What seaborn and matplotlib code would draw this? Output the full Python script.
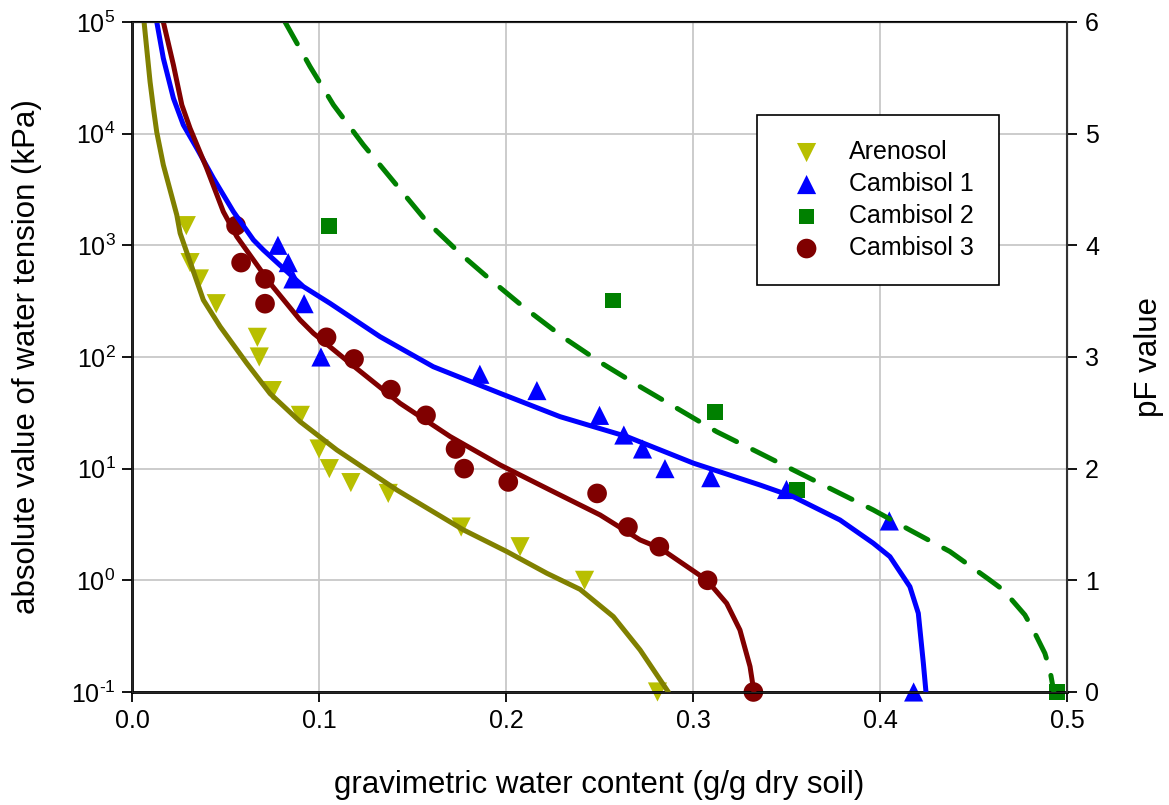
import matplotlib
matplotlib.use("Agg")
import matplotlib.pyplot as plt
import seaborn as sns
import numpy as np
from matplotlib.ticker import FixedLocator, NullLocator, FuncFormatter, FormatStrFormatter

sns.set_style("ticks")
plt.rcParams["font.family"] = ["Liberation Sans", "DejaVu Sans"]
plt.rcParams["mathtext.fontset"] = "custom"
plt.rcParams["mathtext.rm"] = "Liberation Sans"
plt.rcParams["mathtext.it"] = "Liberation Sans:italic"
plt.rcParams["text.color"] = "black"
plt.rcParams["axes.labelcolor"] = "black"

# measured points (water content g/g, tension kPa)
aren_x = [0.029, 0.031, 0.036, 0.045, 0.067, 0.068, 0.075, 0.090, 0.100, 0.1055,
          0.117, 0.137, 0.176, 0.2075, 0.242, 0.281]
aren_y = [1500, 700, 500, 300, 150, 100, 50, 30, 15, 10, 7.5, 6, 3, 2, 1, 0.1]

camb1_x = [0.078, 0.0835, 0.086, 0.092, 0.101, 0.186, 0.2165, 0.25, 0.263, 0.273,
           0.285, 0.3095, 0.35, 0.405, 0.418]
camb1_y = [1000, 700, 500, 300, 100, 70, 50, 30, 20, 15, 10, 8.3, 6.5, 3.4, 0.1]

camb2_x = [0.1053, 0.257, 0.3118, 0.3554, 0.4947]
camb2_y = [1500, 320, 32, 6.4, 0.1]

camb3_x = [0.0556, 0.0583, 0.0711, 0.0711, 0.104, 0.1187, 0.1384, 0.1572, 0.173,
           0.1776, 0.2012, 0.2487, 0.2652, 0.282, 0.3078, 0.3323]
camb3_y = [1500, 700, 500, 300, 150, 96, 51, 30, 15, 10, 7.6, 6, 3, 2, 1, 0.1]

# fitted retention curves
aren_fit_x = [0.0064, 0.0078, 0.0096, 0.0114, 0.0132, 0.0167, 0.0239, 0.0257, 0.0381,
              0.0471, 0.0613, 0.0738, 0.0898, 0.1095, 0.1416, 0.1772, 0.2004, 0.2218,
              0.2396, 0.2574, 0.2717, 0.2868]
aren_fit_y = [1e5, 58200, 29200, 16870, 10280, 5250, 1870, 1282, 324, 187, 88, 47,
              26.4, 14.7, 6.44, 2.83, 1.81, 1.157, 0.83, 0.473, 0.238, 0.1]

camb1_fit_x = [0.0132, 0.0167, 0.0221, 0.0274, 0.0346, 0.0435, 0.0542, 0.0649, 0.0702,
               0.0916, 0.1059, 0.1326, 0.1611, 0.1968, 0.2289, 0.2645, 0.3002, 0.3358,
               0.3536, 0.3786, 0.3964, 0.4053, 0.4160, 0.4205, 0.4232, 0.4246]
camb1_fit_y = [1e5, 47300, 20750, 11970, 7400, 3980, 2000, 1117, 908, 427, 302, 152,
               81.8, 47.3, 29.2, 19.4, 11.2, 7.14, 5.61, 3.47, 2.15, 1.63, 0.877,
               0.507, 0.181, 0.1]

camb2_fit_x = [0.0818, 0.0952, 0.1077, 0.1237, 0.1406, 0.1576, 0.1763, 0.1897, 0.2102,
               0.2306, 0.2512, 0.2717, 0.2930, 0.3127, 0.3341, 0.3554, 0.3750, 0.3964,
               0.4160, 0.4374, 0.4579, 0.4659, 0.4775, 0.4820, 0.4882, 0.4909, 0.4930]
camb2_fit_y = [1e5, 39800, 18070, 7930, 3600, 1630, 820, 525, 273, 150, 87.9, 54.2,
               33.5, 21.4, 14.2, 9.40, 6.44, 4.27, 2.82, 1.81, 1.03, 0.820, 0.490,
               0.359, 0.222, 0.157, 0.1]

camb3_fit_x = [0.0167, 0.0221, 0.0266, 0.0310, 0.0399, 0.0488, 0.0560, 0.0738, 0.0898,
               0.0970, 0.1166, 0.1433, 0.1701, 0.1968, 0.2235, 0.2503, 0.2717, 0.2824,
               0.3073, 0.3180, 0.3251, 0.3305, 0.3326]
camb3_fit_y = [1e5, 41200, 18070, 11170, 4900, 2000, 1197, 457, 215, 163, 87.9, 38.5,
               19.4, 10.8, 6.44, 3.85, 2.30, 1.94, 1.007, 0.622, 0.359, 0.169, 0.1]

kpa_ticks = [0.1, 1, 10, 100, 1000, 10000, 100000]
pf_ticks = [0, 1, 2, 3, 4, 5, 6]

fig, ax = plt.subplots(figsize=(11.69, 8.05), dpi=100)
fig.subplots_adjust(left=0.113, right=0.9127, top=0.9727, bottom=0.1404)

# measured points
sns.scatterplot(x=aren_x, y=aren_y, marker="v", s=190, color="#B8BF00",
                edgecolor="none", label="Arenosol", ax=ax, clip_on=False, zorder=2)
sns.scatterplot(x=camb1_x, y=camb1_y, marker="^", s=190, color="#0000FF",
                edgecolor="none", label="Cambisol 1", ax=ax, clip_on=False, zorder=2)
sns.scatterplot(x=camb2_x, y=camb2_y, marker="s", s=130, color="#008000",
                edgecolor="none", label="Cambisol 2", ax=ax, clip_on=False, zorder=2)
sns.scatterplot(x=camb3_x, y=camb3_y, marker="o", s=200, color="#800000",
                edgecolor="none", label="Cambisol 3", ax=ax, clip_on=False, zorder=2)

# fitted curves
sns.lineplot(x=aren_fit_x, y=aren_fit_y, sort=False, estimator=None, color="#808000",
             lw=3.6, ax=ax, legend=False, zorder=3, solid_capstyle="round")
sns.lineplot(x=camb1_fit_x, y=camb1_fit_y, sort=False, estimator=None, color="#0000FF",
             lw=3.6, ax=ax, legend=False, zorder=3, solid_capstyle="round")
sns.lineplot(x=camb3_fit_x, y=camb3_fit_y, sort=False, estimator=None, color="#800000",
             lw=3.6, ax=ax, legend=False, zorder=3, solid_capstyle="round")
sns.lineplot(x=camb2_fit_x, y=camb2_fit_y, sort=False, estimator=None, color="#008000",
             lw=3.6, ax=ax, legend=False, zorder=3, linestyle=(0, (5, 3.6)),
             dash_capstyle="round")

ax.set_yscale("log")
ax.set_xlim(0, 0.5)
ax.set_ylim(0.1, 1e5)
ax.set_xticks(np.arange(0, 0.51, 0.1))
ax.xaxis.set_major_formatter(FormatStrFormatter("%.1f"))
ax.yaxis.set_major_locator(FixedLocator(kpa_ticks))
ax.yaxis.set_minor_locator(NullLocator())


def dec_label(v, pos):
    e = int(round(np.log10(v)))
    if e < 0:
        return r"$\mathregular{10^{\text{-}%d}}$" % (-e)
    return r"$\mathregular{10^{%d}}$" % e


ax.yaxis.set_major_formatter(FuncFormatter(dec_label))

ax.grid(True, color="#C8C8C8", lw=1.3)
ax.set_axisbelow(True)
ax.tick_params(direction="out", length=7, width=1.3, colors="black", labelsize=18, pad=5)

ax.set_xlabel("gravimetric water content (g/g dry soil)", fontsize=22.5, labelpad=27)
ax.set_ylabel("absolute value of water tension (kPa)", fontsize=22.5, labelpad=21)

for side in ["left", "bottom"]:
    ax.spines[side].set_color("black")
    ax.spines[side].set_linewidth(2)
ax.spines["top"].set_color("black")
ax.spines["top"].set_linewidth(1.5)

ax2 = ax.twinx()
ax2.set_ylim(0, 6)
ax2.set_yticks(pf_ticks)
ax2.tick_params(direction="out", length=7, width=1.3, colors="black", labelsize=18, pad=6)
ax2.set_ylabel("pF value", fontsize=22.5, labelpad=25)
ax2.spines["right"].set_color("#333333")
ax2.spines["right"].set_linewidth(1.5)

leg = ax.legend(loc="upper left", bbox_to_anchor=(0.668, 0.861), fontsize=18,
                frameon=True, fancybox=False, borderpad=1.0, labelspacing=0.32,
                handletextpad=0.7, handlelength=2.0, scatterpoints=1, borderaxespad=0)
leg.get_frame().set_edgecolor("black")
leg.get_frame().set_linewidth(1.2)
leg.get_frame().set_alpha(1)
for t in leg.get_texts():
    t.set_color("black")

fig.savefig("out.png", dpi=100)
